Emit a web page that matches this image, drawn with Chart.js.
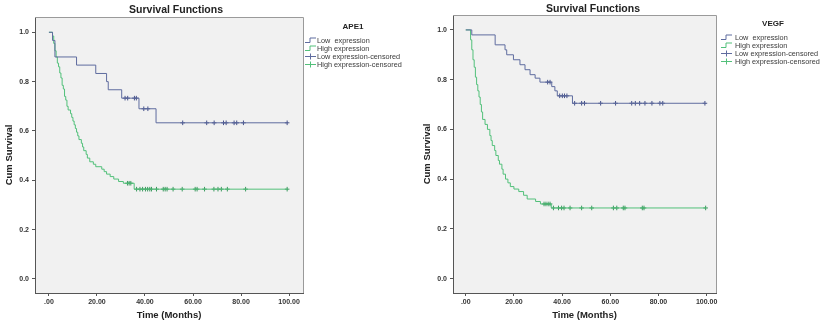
<!DOCTYPE html>
<html>
<head>
<meta charset="utf-8">
<script src="https://cdn.jsdelivr.net/npm/chart.js@4/dist/chart.umd.min.js"></script>
<style>
html, body { margin: 0; padding: 0; background: #fff; }
#wrap { position: relative; width: 825px; height: 324px; }
.box { position: absolute; top: 0; height: 324px; }
</style>
</head>
<body>
<div id="wrap">
  <div class="box" style="left:0;width:420px"><canvas id="c1" width="420" height="324"></canvas></div>
  <div class="box" style="left:420px;width:405px"><canvas id="c2" width="405" height="324"></canvas></div>
</div>
<script>
// axis ticks
const xTicks = [0, 20, 40, 60, 80, 100];
const yTicks = [0, 0.2, 0.4, 0.6, 0.8, 1.0];
const seriesNames = ['Low  expression', 'High expression', 'Low expression-censored', 'High expression-censored'];

// APE1 - low expression
const apeLowTime = [0, 1.5, 2.5, 11.5, 19.5, 24.0, 24.7, 30.3, 37.5, 44.6, 99.2];
const apeLowSurv = [1.0, 0.967, 0.9, 0.867, 0.833, 0.8, 0.767, 0.733, 0.69, 0.633, 0.633];
const apeLowCens = [31.7, 32.8, 35.6, 36.4, 39.5, 41.2, 55.7, 65.7, 68.8, 72.7, 73.8, 77.1, 78.2, 81.0, 99.2];

// APE1 - high expression
const apeHighTime = [0, 1.5, 2.0, 2.5, 3.0, 3.5, 4.0, 4.5, 5.0, 5.5, 6.0, 6.5, 7.0, 7.5, 8.0, 9.0, 9.5, 10.0, 10.5, 11.0,
  11.5, 12.0, 12.5, 13.5, 14.0, 14.5, 15.5, 16.0, 17.0, 18.5, 19.5, 22.0, 23.0, 24.0, 25.5, 27.0, 29.0, 31.0, 35.5, 99.2];
const apeHighSurv = [1.0, 0.985, 0.955, 0.925, 0.9, 0.875, 0.86, 0.835, 0.815, 0.785, 0.77, 0.74, 0.725, 0.7, 0.685, 0.67, 0.655, 0.64, 0.625, 0.61,
  0.595, 0.58, 0.565, 0.55, 0.535, 0.52, 0.505, 0.49, 0.475, 0.465, 0.455, 0.445, 0.435, 0.425, 0.415, 0.405, 0.395, 0.388, 0.364, 0.364];
const apeHighCens = [32.7, 33.4, 34.1, 36.5, 37.9, 39.0, 40.2, 41.1, 42.0, 42.7, 44.8, 47.6, 48.4, 49.2, 51.7, 55.5,
  60.9, 61.7, 64.8, 68.7, 70.4, 71.8, 74.3, 81.9, 99.2];

// VEGF - low expression
const vegfLowTime = [0, 2.5, 12.2, 16.3, 17.0, 19.8, 22.5, 24.6, 26.7, 28.8, 30.8, 35.7, 37.0, 38.0, 44.3, 99.3];
const vegfLowSurv = [1.0, 0.98, 0.94, 0.92, 0.9, 0.88, 0.86, 0.84, 0.82, 0.806, 0.79, 0.772, 0.755, 0.735, 0.705, 0.705];
const vegfLowCens = [34.0, 35.0, 39.0, 40.1, 41.0, 42.0, 45.2, 48.1, 49.3, 56.0, 62.2, 68.9, 70.4, 72.2, 74.4, 77.3, 80.6, 81.8, 99.3];

// VEGF - high expression
const vegfHighTime = [0, 2.0, 2.5, 3.0, 3.5, 4.0, 4.5, 5.0, 5.5, 6.0, 6.5, 7.0, 8.0, 9.0, 10.0, 10.5, 11.0, 12.0, 12.5, 13.5,
  14.0, 15.0, 15.5, 16.5, 17.5, 18.5, 20.0, 22.0, 24.0, 25.5, 29.0, 31.0, 35.5, 99.6];
const vegfHighSurv = [1.0, 0.96, 0.92, 0.88, 0.85, 0.81, 0.78, 0.755, 0.73, 0.7, 0.67, 0.64, 0.62, 0.6, 0.575, 0.555, 0.535, 0.515, 0.495, 0.475,
  0.46, 0.44, 0.42, 0.4, 0.385, 0.37, 0.36, 0.35, 0.335, 0.32, 0.31, 0.3, 0.284, 0.284];
const vegfHighCens = [32.5, 33.3, 34.2, 35.0, 36.4, 38.5, 39.8, 40.8, 43.3, 48.1, 52.3, 61.3, 62.7, 65.4, 66.1, 73.3, 74.0, 99.6];

const lowColor = '#5f6c9f';
const lowMark = '#46528a';
const highColor = '#52c07a';
const highMark = '#3a9a5e';
const FONT = '"Liberation Sans", Arial, sans-serif';

function survAt(times, surv, t) {
    let s = surv[0];
    for (let i = 0; i < times.length; i++) {
        if (times[i] <= t) s = surv[i];
    }
    return s;
}

function stepData(times, surv) {
    return times.map((t, i) => ({ x: t, y: surv[i] }));
}

function censData(cens, times, surv) {
    return cens.map(t => ({ x: t, y: survAt(times, surv, t) }));
}

// background, frame, title and legend
const decor = {
    id: 'decor',
    beforeDraw(chart) {
        const a = chart.chartArea;
        const ctx = chart.ctx;
        ctx.save();
        ctx.fillStyle = '#f1f1f1';
        ctx.fillRect(a.left, a.top, a.right - a.left, a.bottom - a.top);
        ctx.restore();
    },
    afterDraw(chart, args, o) {
        const a = chart.chartArea;
        const ctx = chart.ctx;
        ctx.save();
        // top / right frame
        ctx.strokeStyle = '#9a9a9a';
        ctx.lineWidth = 1;
        ctx.beginPath();
        ctx.moveTo(a.left, a.top + 0.5);
        ctx.lineTo(a.right + 0.5, a.top + 0.5);
        ctx.lineTo(a.right + 0.5, a.bottom);
        ctx.stroke();

        // chart title
        ctx.fillStyle = '#222';
        ctx.font = 'bold 10.5px ' + FONT;
        ctx.textAlign = 'center';
        ctx.textBaseline = 'middle';
        ctx.fillText('Survival Functions', o.titleX, o.titleY);

        // legend title
        ctx.font = 'bold 8px ' + FONT;
        ctx.fillText(o.legendTitle, o.legendTitleX, o.legendTitleY);

        // legend items
        const colors = [lowColor, highColor, lowColor, highColor];
        ctx.font = '7.3px ' + FONT;
        ctx.textAlign = 'left';
        for (let i = 0; i < seriesNames.length; i++) {
            const y = o.legendY[i];
            const x0 = o.iconX;
            ctx.strokeStyle = colors[i];
            ctx.beginPath();
            if (i < 2) {
                ctx.moveTo(x0, y + 2.5);
                ctx.lineTo(x0 + 5, y + 2.5);
                ctx.lineTo(x0 + 5, y - 2);
                ctx.lineTo(x0 + 11, y - 2);
            } else {
                ctx.moveTo(x0, y + 0.5);
                ctx.lineTo(x0 + 11, y + 0.5);
                ctx.moveTo(x0 + 5.5, y - 2.5);
                ctx.lineTo(x0 + 5.5, y + 3.5);
            }
            ctx.stroke();
            ctx.fillStyle = '#3a3a3a';
            ctx.fillText(seriesNames[i], o.textX, y + 0.5);
        }
        ctx.restore();
    }
};

function makeChart(id, s, lay) {
    return new Chart(document.getElementById(id), {
        type: 'line',
        data: {
            datasets: [{
                label: seriesNames[0],
                data: stepData(s.lowTime, s.lowSurv),
                borderColor: lowColor,
                borderWidth: 1,
                stepped: true,
                pointRadius: 0,
                fill: false
            }, {
                label: seriesNames[1],
                data: stepData(s.highTime, s.highSurv),
                borderColor: highColor,
                borderWidth: 1,
                stepped: true,
                pointRadius: 0,
                fill: false
            }, {
                label: seriesNames[2],
                data: censData(s.lowCens, s.lowTime, s.lowSurv),
                showLine: false,
                pointStyle: 'cross',
                pointRadius: 2.3,
                borderWidth: 1,
                borderColor: lowMark
            }, {
                label: seriesNames[3],
                data: censData(s.highCens, s.highTime, s.highSurv),
                showLine: false,
                pointStyle: 'cross',
                pointRadius: 2.3,
                borderWidth: 1,
                borderColor: highMark
            }]
        },
        options: {
            responsive: false,
            animation: false,
            events: [],
            layout: { padding: { left: 0, top: lay.top, right: lay.right, bottom: 0 } },
            plugins: {
                legend: { display: false },
                tooltip: { enabled: false },
                title: { display: false },
                decor: lay.decor
            },
            scales: {
                x: {
                    type: 'linear',
                    min: lay.xMin,
                    max: lay.xMax,
                    afterBuildTicks: sc => { sc.ticks = xTicks.map(v => ({ value: v })); },
                    afterFit: sc => { sc.height = 324 - lay.bottomY; },
                    grid: { display: true, drawOnChartArea: false, tickLength: 3, color: '#555' },
                    border: { color: '#555' },
                    ticks: {
                        padding: 2,
                        maxRotation: 0,
                        color: '#333',
                        font: { family: FONT, size: 7, weight: 'bold' },
                        callback: v => v === 0 ? '.00' : v.toFixed(2)
                    },
                    title: {
                        display: true,
                        text: 'Time (Months)',
                        color: '#222',
                        font: { family: FONT, size: 9.5, weight: 'bold' },
                        padding: { top: 0, bottom: 2.5 }
                    }
                },
                y: {
                    min: lay.yMin,
                    max: lay.yMax,
                    afterBuildTicks: sc => { sc.ticks = yTicks.map(v => ({ value: v })); },
                    afterFit: sc => { sc.width = lay.leftX; },
                    grid: { display: true, drawOnChartArea: false, tickLength: 3, color: '#555' },
                    border: { color: '#555' },
                    ticks: {
                        padding: 3,
                        color: '#333',
                        font: { family: FONT, size: 7, weight: 'bold' },
                        callback: v => v.toFixed(1)
                    },
                    title: {
                        display: true,
                        text: 'Cum Survival',
                        color: '#222',
                        font: { family: FONT, size: 9.5, weight: 'bold' },
                        padding: { top: lay.yTitlePad, bottom: 0 }
                    }
                }
            }
        },
        plugins: [decor]
    });
}

makeChart('c1', {
    lowTime: apeLowTime, lowSurv: apeLowSurv, lowCens: apeLowCens,
    highTime: apeHighTime, highSurv: apeHighSurv, highCens: apeHighCens
}, {
    top: 17, right: 117, bottomY: 293, leftX: 35, yTitlePad: 3.5,
    xMin: -5.8, xMax: 105.8, yMin: -0.057, yMax: 1.062,
    decor: {
        titleX: 176, titleY: 10, legendTitle: 'APE1', legendTitleX: 353, legendTitleY: 27,
        legendY: [40, 48, 56, 64], iconX: 305, textX: 317
    }
});

makeChart('c2', {
    lowTime: vegfLowTime, lowSurv: vegfLowSurv, lowCens: vegfLowCens,
    highTime: vegfHighTime, highSurv: vegfHighSurv, highCens: vegfHighCens
}, {
    top: 15, right: 109, bottomY: 293, leftX: 33, yTitlePad: 1.6,
    xMin: -5.3, xMax: 103.9, yMin: -0.058, yMax: 1.06,
    decor: {
        titleX: 173, titleY: 9, legendTitle: 'VEGF', legendTitleX: 353, legendTitleY: 24,
        legendY: [37, 45, 53, 61], iconX: 301, textX: 315
    }
});
</script>
</body>
</html>
